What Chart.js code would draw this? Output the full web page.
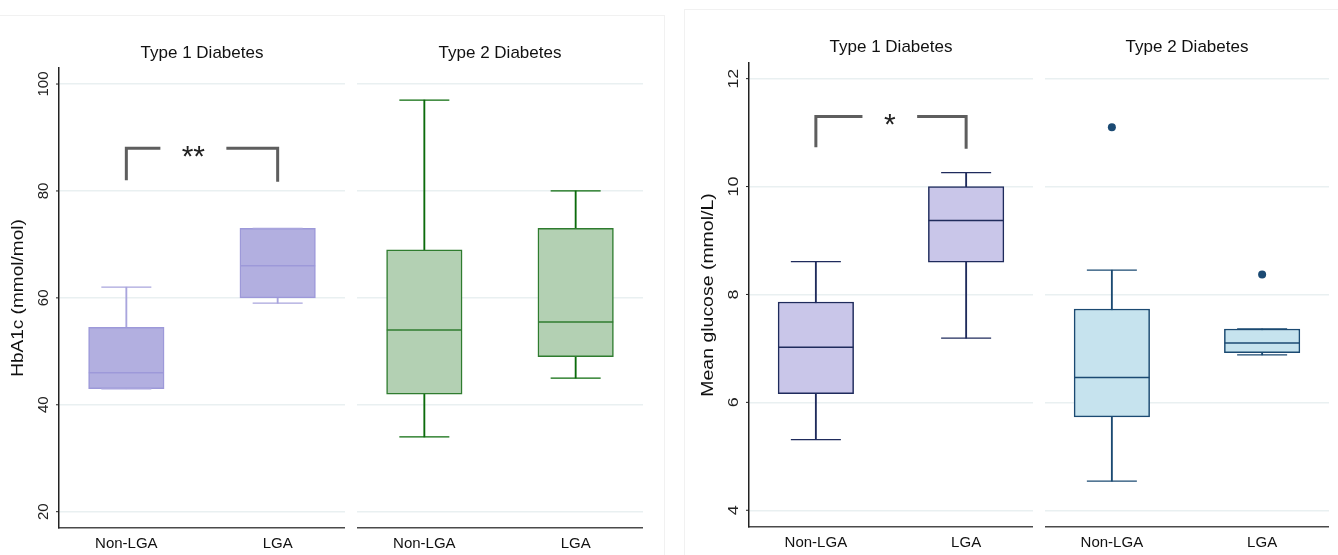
<!DOCTYPE html>
<html>
<head>
<meta charset="utf-8">
<script src="https://cdn.jsdelivr.net/npm/chart.js@4.4.1/dist/chart.umd.min.js"></script>
<style>
  body { margin: 0; background: #fff; }
  #wrap { position: relative; width: 1338px; height: 555px; overflow: hidden; }
  .panel { position: absolute; top: 0; }
  .frame { position: absolute; border: 0 solid #f1f1f1; }
</style>
</head>
<body>
<div id="wrap">
  <div class="frame" style="left:0;top:15px;width:664px;height:540px;border-top-width:1px;border-right-width:1px"></div>
  <div class="frame" style="left:684px;top:9px;width:660px;height:546px;border-top-width:1px;border-left-width:1px"></div>
  <canvas id="hbT1" class="panel" width="345" height="555" style="left:0"></canvas>
  <canvas id="hbT2" class="panel" width="286" height="555" style="left:357px"></canvas>
  <canvas id="glT1" class="panel" width="343" height="555" style="left:690px"></canvas>
  <canvas id="glT2" class="panel" width="284" height="555" style="left:1045px"></canvas>
</div>
<script>
Chart.defaults.font.family = '"Liberation Sans", Arial, sans-serif';
Chart.defaults.color = '#111';
const FONT = '"Liberation Sans", Arial, sans-serif';

// categories and panel titles
const groups = ['Non-LGA', 'LGA'];
const panelTitles = ['Type 1 Diabetes', 'Type 2 Diabetes'];

// box stats per group: [lower whisker, Q1, median, Q3, upper whisker]
// HbA1c (mmol/mol)
const hba1cT1 = [[43, 43, 46, 54.5, 62], [59, 60, 66, 73, 73]];
const hba1cT2 = [[34, 42, 54, 69, 97], [45, 49, 55.5, 73, 80]];
const hba1cTicks = [20, 40, 60, 80, 100];
// significance bracket: left drop, top, right drop
const hba1cSig = [82, 88, 81.7];
const hba1cSigLabel = '**';

// Mean glucose (mmol/L)
const glucoseT1 = [[5.31, 6.16, 7.02, 7.86, 8.61], [7.19, 8.6, 9.37, 10.0, 10.26]];
const glucoseT2 = [[4.54, 5.73, 6.46, 7.73, 8.45], [6.88, 6.92, 7.1, 7.36, 7.36]];
const glucoseOutliersT2 = [[11.1], [8.37]];
const glucoseTicks = [4, 6, 8, 10, 12];
const glucoseSig = [10.73, 11.3, 10.7];
const glucoseSigLabel = '*';

// rotated text, stretched along its length like the original export
function upText(ctx, text, x, y, font, stretch) {
  ctx.save();
  ctx.font = font;
  ctx.translate(x, y);
  ctx.rotate(-Math.PI / 2);
  ctx.scale(stretch, 1);
  ctx.textAlign = 'center';
  ctx.textBaseline = 'middle';
  ctx.fillText(text, 0, 0);
  ctx.restore();
}

// y tick labels, y title and the significance bracket
const extras = {
  id: 'extras',
  afterDraw(chart, args, o) {
    const ctx = chart.ctx;
    const x = chart.scales.x, y = chart.scales.y;
    const area = chart.chartArea;
    ctx.save();
    if (o.ticks) {
      ctx.fillStyle = '#222';
      ctx.strokeStyle = '#222';
      ctx.lineWidth = 1;
      o.ticks.forEach(v => {
        const py = y.getPixelForValue(v);
        ctx.beginPath();
        ctx.moveTo(area.left - 3, py);
        ctx.lineTo(area.left, py);
        ctx.stroke();
        upText(ctx, String(v), area.left - 15.6, py, '15px ' + FONT, o.tickStretch);
      });
      ctx.fillStyle = '#111';
      upText(ctx, o.yTitle, 18.7, (area.top + area.bottom) / 2, o.yTitleSize + 'px ' + FONT, o.titleStretch);
    }
    if (o.sig) {
      const top = y.getPixelForValue(o.sig[1]);
      const x1 = x.getPixelForValue(1), x2 = x.getPixelForValue(2);
      const g1 = x.getPixelForValue(o.gap[0]), g2 = x.getPixelForValue(o.gap[1]);
      ctx.strokeStyle = '#5e5e5e';
      ctx.lineWidth = 3;
      ctx.beginPath();
      ctx.moveTo(x1, y.getPixelForValue(o.sig[0]));
      ctx.lineTo(x1, top);
      ctx.lineTo(g1, top);
      ctx.moveTo(g2, top);
      ctx.lineTo(x2, top);
      ctx.lineTo(x2, y.getPixelForValue(o.sig[2]));
      ctx.stroke();
      ctx.font = '30px ' + FONT;
      ctx.fillStyle = '#222';
      ctx.textAlign = 'center';
      ctx.textBaseline = 'alphabetic';
      const m = ctx.measureText(o.label);
      const cy = top + 3;
      ctx.fillText(o.label, (g1 + g2) / 2, cy + (m.actualBoundingBoxAscent - m.actualBoundingBoxDescent) / 2);
    }
    ctx.restore();
  }
};

function makePanel(id, o) {
  const st = o.stats;
  const datasets = [
    // whiskers
    { type: 'bar', order: 3, grouped: false, barThickness: 1.2,
      data: st.map((s, i) => ({ x: i + 1, y: [s[0], s[4]] })),
      backgroundColor: o.whisk },
    // boxes
    { type: 'bar', order: 2, grouped: false, barThickness: 75.5,
      data: st.map((s, i) => ({ x: i + 1, y: [s[1], s[3]] })),
      backgroundColor: o.fill, borderColor: o.edge, borderWidth: 1.5, borderSkipped: false },
    // medians
    { type: 'scatter', order: 1,
      data: st.map((s, i) => ({ x: i + 1, y: s[2] })),
      pointStyle: 'line', pointRadius: 37.5, pointBorderColor: o.edge, pointBorderWidth: 1.5 },
    // whisker caps
    { type: 'scatter', order: 0,
      data: st.flatMap((s, i) => [{ x: i + 1, y: s[0] }, { x: i + 1, y: s[4] }]),
      pointStyle: 'line', pointRadius: 25, pointBorderColor: o.whisk, pointBorderWidth: 1.3 }
  ];
  if (o.outliers) {
    datasets.push({ type: 'scatter', order: 0,
      data: o.outliers.flatMap((list, i) => list.map(v => ({ x: i + 1, y: v }))),
      pointStyle: 'circle', pointRadius: 4, pointBackgroundColor: o.dot, pointBorderWidth: 0 });
  }
  return new Chart(document.getElementById(id), {
    type: 'bar',
    data: { datasets: datasets },
    plugins: [extras],
    options: {
      responsive: false,
      animation: false,
      events: [],
      layout: { padding: 0, autoPadding: false },
      plugins: {
        legend: { display: false },
        tooltip: { enabled: false },
        title: {
          display: true, text: o.title, fullSize: false,
          font: { size: 17, weight: 'normal' }, color: '#111',
          padding: o.titlePad
        },
        extras: {
          ticks: o.ticks, tickStretch: o.tickStretch, yTitle: o.yTitle, yTitleSize: o.yTitleSize,
          titleStretch: o.titleStretch, sig: o.sig, gap: o.gap, label: o.label
        }
      },
      scales: {
        x: {
          type: 'linear', min: 0.555, max: 2.445, offset: false,
          afterBuildTicks: s => { s.ticks = groups.map((g, i) => ({ value: i + 1 })); },
          afterFit: s => { s.height = o.xh; s.paddingLeft = 0; s.paddingRight = 0; },
          grid: { display: false, drawTicks: false },
          border: { display: true, color: '#4a4a4a', width: 1.5 },
          ticks: { callback: v => groups[Math.round(v) - 1], font: { size: 15 }, color: '#111', padding: 7, maxRotation: 0, autoSkip: false }
        },
        y: {
          type: 'linear', min: o.ymin, max: o.ymax,
          afterBuildTicks: s => { s.ticks = o.gridTicks.map(v => ({ value: v })); },
          afterFit: s => { s.width = o.yw; },
          grid: { color: '#e9f0f1', lineWidth: 1.5, drawTicks: false },
          border: { display: !!o.ticks, color: '#222', width: 1.5 },
          ticks: { display: false }
        }
      }
    }
  });
}

const hbLavender = { fill: '#b2afe0', edge: '#9d99d9', whisk: '#a9a5dd' };
const hbGreen = { fill: '#b3d0b3', edge: '#2f7c2f', whisk: '#0b6b0b' };
const glLavender = { fill: '#c9c6e9', edge: '#1f2b5c', whisk: '#1f2b5c' };
const glBlue = { fill: '#c6e3ee', edge: '#1b4a72', whisk: '#1b4a72', dot: '#1b4a73' };

makePanel('hbT1', Object.assign({
  stats: hba1cT1, title: panelTitles[0], titlePad: { top: 43, bottom: 4.6 },
  ymin: 16.95, ymax: 103, gridTicks: hba1cTicks, ticks: hba1cTicks, tickStretch: 1.0,
  yw: 59, xh: 27, yTitle: 'HbA1c (mmol/mol)', yTitleSize: 17, titleStretch: 1.12,
  sig: hba1cSig, gap: [1.225, 1.661], label: hba1cSigLabel
}, hbLavender));

makePanel('hbT2', Object.assign({
  stats: hba1cT2, title: panelTitles[1], titlePad: { top: 43, bottom: 4.6 },
  ymin: 16.95, ymax: 103, gridTicks: hba1cTicks, yw: 0, xh: 27
}, hbGreen));

makePanel('glT1', Object.assign({
  stats: glucoseT1, title: panelTitles[0], titlePad: { top: 37, bottom: 5.6 },
  ymin: 3.69, ymax: 12.29, gridTicks: glucoseTicks, ticks: glucoseTicks, tickStretch: 1.19,
  yw: 59, xh: 28, yTitle: 'Mean glucose (mmol/L)', yTitleSize: 16.5, titleStretch: 1.18,
  sig: glucoseSig, gap: [1.31, 1.674], label: glucoseSigLabel
}, glLavender));

makePanel('glT2', Object.assign({
  stats: glucoseT2, outliers: glucoseOutliersT2, title: panelTitles[1], titlePad: { top: 37, bottom: 5.6 },
  ymin: 3.69, ymax: 12.29, gridTicks: glucoseTicks, yw: 0, xh: 28
}, glBlue));
</script>
</body>
</html>
